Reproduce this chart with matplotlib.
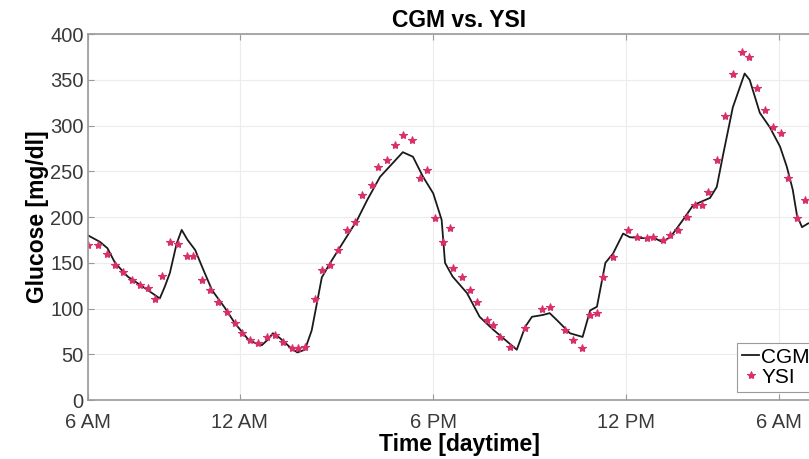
import matplotlib
matplotlib.use("Agg")
import matplotlib.pyplot as plt

# time in hours after the first 6 AM, glucose in mg/dl
cgm_time = [0.0, 1.4, 2.3, 3.2, 4.7, 6.8, 8.2, 8.5, 9.1, 9.7, 10.5, 11.1, 11.8, 12.7,
            13.5, 14.7, 16.2, 17.4, 19.0, 20.1, 20.6, 21.3, 21.9, 22.7, 23.9, 24.8,
            25.7, 26.5, 27.0, 27.7, 28.7, 30.2, 31.9, 33.1, 34.6, 36.1, 37.3, 38.5,
            39.7, 40.9, 41.9, 42.3, 43.2, 44.9, 46.4, 48.0, 50.8, 51.8, 52.6, 53.9,
            54.7, 55.6, 57.1, 58.6, 59.5, 60.3, 61.3, 62.2, 63.4, 64.2, 65.8, 66.9,
            68.0, 69.0, 70.5, 71.7, 73.7, 74.5, 75.2, 76.4, 77.8, 78.4, 79.6, 80.8,
            82.0, 82.8, 83.5, 84.0, 84.6, 85.3, 86.5]
cgm_glucose = [180, 173, 166, 150, 135, 122, 113, 111, 124, 139, 171, 186, 175, 164,
               146, 120, 101, 84, 66, 61, 60, 66, 73, 68, 58, 52,
               55, 76, 100, 134, 150, 172, 197, 219, 244, 259, 271, 266,
               244, 226, 197, 150, 135, 117, 91, 77, 55, 80, 91, 93,
               95, 87, 73, 69, 98, 102, 150, 160, 182, 178, 177, 178,
               173, 178, 197, 213, 221, 233, 266, 320, 357, 350, 314, 298,
               277, 255, 230, 202, 189, 193, 196]

ysi_time = [0.0, 1.2, 2.3, 3.2, 4.1, 5.2, 6.2, 7.1, 7.9, 8.8, 9.7, 10.7, 11.7, 12.4,
            13.5, 14.5, 15.4, 16.5, 17.4, 18.2, 19.2, 20.1, 21.2, 22.2, 23.1, 24.2,
            24.9, 25.7, 26.9, 27.7, 28.7, 29.6, 30.7, 31.6, 32.5, 33.6, 34.4, 35.4,
            36.4, 37.3, 38.4, 39.3, 40.2, 41.1, 42.1, 42.9, 43.2, 44.3, 45.3, 46.1,
            47.3, 48.0, 48.8, 50.0, 51.8, 53.8, 54.7, 56.5, 57.5, 58.5, 59.5, 60.3,
            61.0, 62.2, 64.0, 65.0, 66.2, 66.9, 68.1, 69.0, 69.9, 71.0, 71.9, 72.7,
            73.5, 74.5, 75.5, 76.4, 77.5, 78.3, 79.3, 80.2, 81.2, 82.1, 82.9, 84.0,
            85.0]
ysi_glucose = [169, 169, 160, 148, 140, 131, 126, 122, 111, 136, 173, 171, 158, 158,
               131, 120, 107, 96, 84, 73, 66, 62, 69, 71, 63, 57,
               57, 58, 111, 142, 148, 164, 186, 195, 224, 235, 255, 262,
               279, 290, 284, 243, 251, 199, 173, 188, 144, 135, 120, 107,
               87, 82, 69, 58, 79, 100, 102, 77, 66, 57, 93, 95,
               135, 156, 186, 178, 177, 178, 175, 180, 186, 200, 213, 213,
               227, 262, 311, 357, 380, 375, 341, 317, 298, 292, 243, 199,
               219]

tick_pos = [0, 18, 40.9, 63.7, 81.9]
tick_labels = ['6 AM', '12 AM', '6 PM', '12 PM', '6 AM']

plt.rcParams['font.family'] = ['Liberation Sans', 'DejaVu Sans']

fig = plt.figure(figsize=(8.09, 4.59), dpi=100)
ax = fig.add_axes([0.1088, 0.1285, 0.917, 0.797])

ax.plot(cgm_time, cgm_glucose, color='#1a1a1a', linewidth=1.3, label='CGM')
ax.plot(ysi_time, ysi_glucose, linestyle='none', marker='*', markersize=6,
        color='#d9306a', markeredgewidth=0.8, label='YSI')

ax.set_xlim(0, 87.9)
ax.set_ylim(0, 400)
ax.set_xticks(tick_pos)
ax.set_xticklabels(tick_labels)
ax.set_yticks(range(0, 401, 50))

ax.grid(True, color='#ececec', linewidth=0.8)
ax.set_axisbelow(True)
for s in ax.spines.values():
    s.set_color('#9a9a9a')
    s.set_linewidth(1.2)
ax.tick_params(direction='in', top=True, right=True, length=4, color='#9a9a9a',
               labelsize=14.5, labelcolor='#3a3a3a')
ax.tick_params(axis='x', pad=9)
ax.tick_params(axis='y', pad=3)

ax.set_title('CGM vs. YSI', fontsize=16.5, fontweight='bold', pad=5)
ax.set_xlabel('Time [daytime]', fontsize=16.5, fontweight='bold', labelpad=1)
ax.set_ylabel('Glucose [mg/dl]', fontsize=16.5, fontweight='bold', labelpad=1)

leg = ax.legend(loc='lower left', bbox_to_anchor=(0.875, 0.022), borderaxespad=0,
                fontsize=15, handlelength=0.8, handletextpad=0.1, borderpad=0.25,
                labelspacing=0.05, fancybox=False, framealpha=1)
leg.get_frame().set_edgecolor('#9a9a9a')
leg.get_frame().set_linewidth(0.8)

fig.savefig('out.png', dpi=100)
